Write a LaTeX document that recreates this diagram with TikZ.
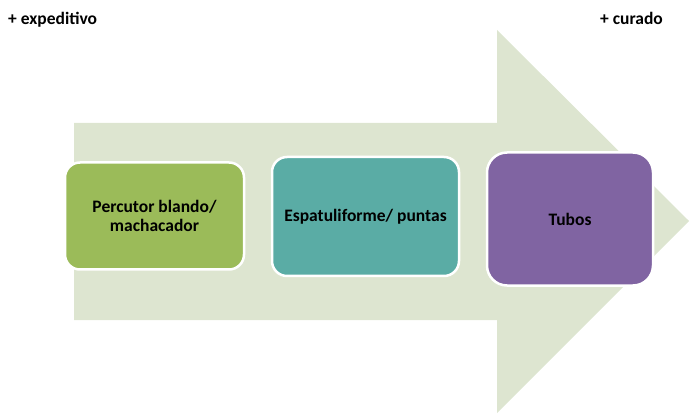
\documentclass[tikz,border=0pt]{standalone}
\usepackage{fontspec}
\setmainfont{Carlito}
\usetikzlibrary{positioning}
\definecolor{arrowcolor}{RGB}{221, 229, 208}
\definecolor{greencolor}{RGB}{155, 187, 89}
\definecolor{tealcolor}{RGB}{90, 172, 165}
\definecolor{purplecolor}{RGB}{128, 100, 162}

\begin{document}
\begin{tikzpicture}[x=1pt,y=-1pt,
  box/.style={draw=white,line width=2.5pt,rounded corners=15pt,align=center,font=\fontsize{17.5}{19.5}\selectfont\bfseries},
  tag/.style={font=\fontsize{17.5}{21}\selectfont\bfseries,inner sep=0pt}]
\useasboundingbox (0,0) rectangle (691,414);
% big arrow behind the boxes
\fill[arrowcolor] (74,123) -- (497,123) -- (497,30) -- (689,221) -- (497,413) -- (497,320) -- (74,320) -- cycle;
\node[box,fill=greencolor,minimum width=179pt,minimum height=107pt] (percutor) at (154.5,216) {Percutor blando/\\machacador};
\node[box,fill=tealcolor,minimum width=187pt,minimum height=119pt] (espatula) at (365.5,216.5) {Espatuliforme/ puntas};
\node[box,fill=purplecolor,minimum width=166pt,minimum height=133pt,rounded corners=20pt] (tubos) at (570,219) {Tubos};
\node[tag,anchor=base west] (expeditivo) at (8,25) {+ expeditivo};
\node[tag,anchor=base east] (curado) at (663,25) {+ curado};
\end{tikzpicture}
\end{document}
